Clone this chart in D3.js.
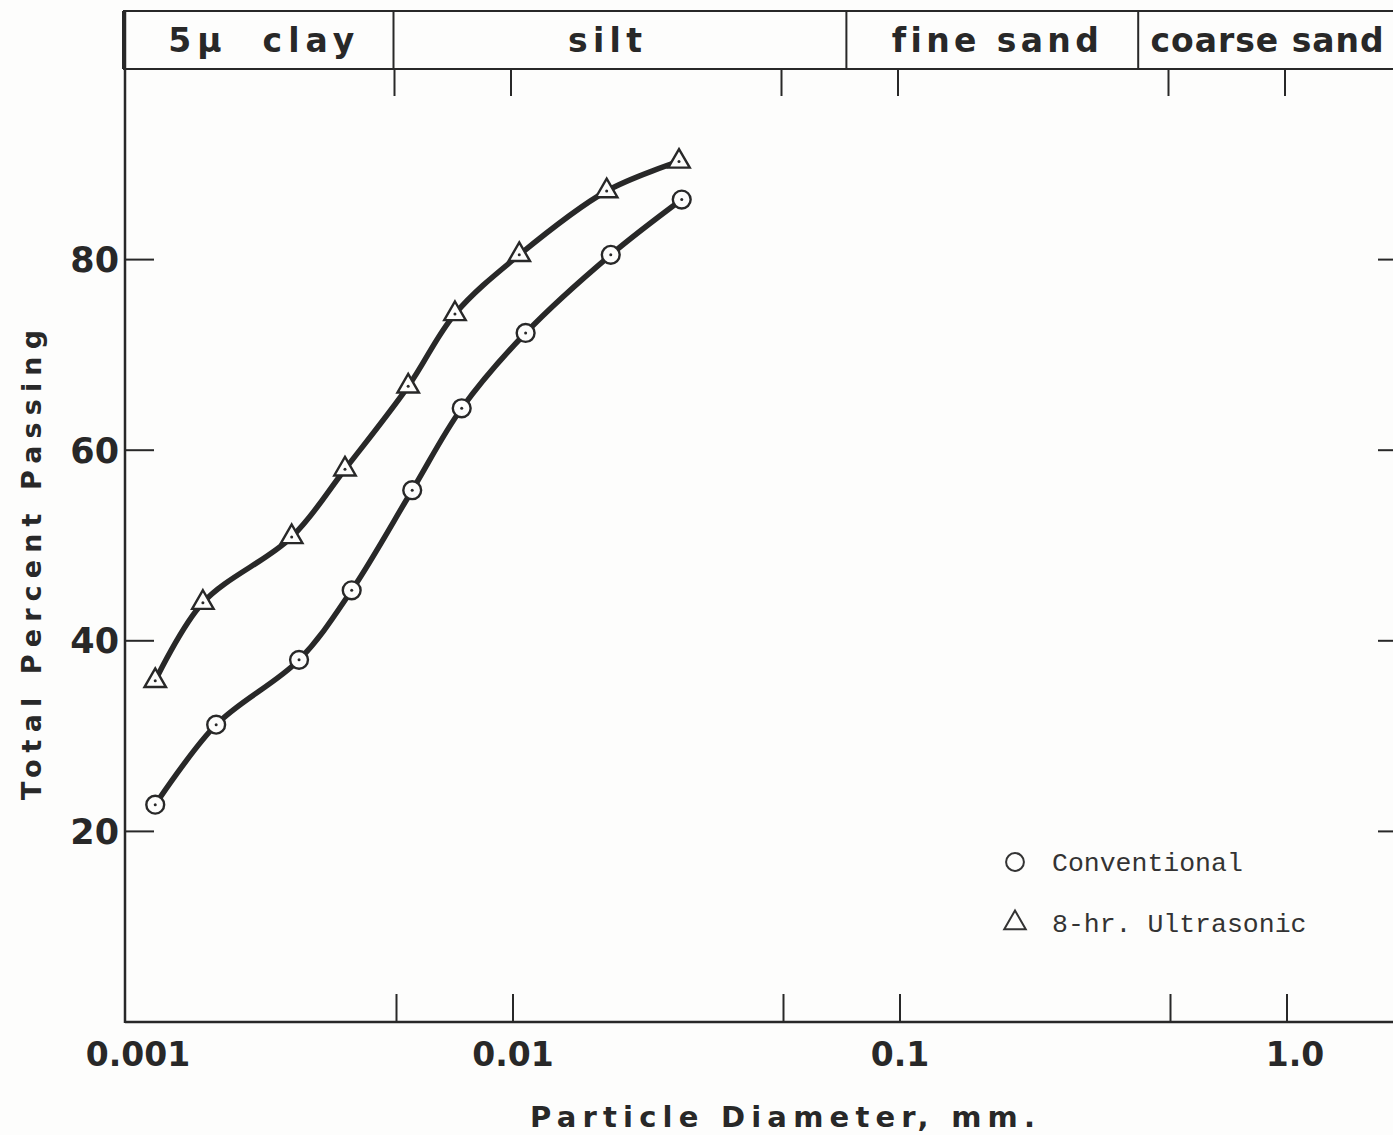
<!DOCTYPE html>
<html>
<head>
<meta charset="utf-8">
<script src="https://cdn.jsdelivr.net/npm/d3@7"></script>
<style>
  body { margin: 0; background: #fdfdfc; }
  svg { display: block; }
  text { font-variant-ligatures: none; }
</style>
</head>
<body>
<svg id="chart"></svg>
<script>
// particle diameter (mm) and total percent passing
var conventionalSize = [0.00119, 0.00171, 0.00280, 0.00383, 0.00549, 0.00737, 0.01078, 0.01789, 0.02729];
var conventionalPct  = [22.8, 31.2, 38.0, 45.3, 55.8, 64.4, 72.3, 80.5, 86.3];
var ultrasonicSize = [0.00119, 0.00158, 0.00268, 0.00368, 0.00536, 0.00708, 0.01038, 0.01746, 0.02685];
var ultrasonicPct  = [35.8, 44.0, 50.9, 58.0, 66.7, 74.3, 80.5, 87.2, 90.3];

var xTicks = [0.005, 0.01, 0.05, 0.1, 0.5, 1];
var xLabelValues = [0.001, 0.01, 0.1, 1];
var xLabelText = ["0.001", "0.01", "0.1", "1.0"];
var yTicks = [20, 40, 60, 80];

// soil classes along the top (mm)
var bandNames = ["5\u00b5  clay", "silt", "fine sand", "coarse sand"];
var bandEdges = [0.001, 0.005, 0.074, 0.42, 2.0];

var legendNames = ["Conventional", "8-hr. Ultrasonic"];

var width = 1393, height = 1135;
var boldFont = "'DejaVu Sans', Lato, sans-serif";
var ink = "#282828";

var svg = d3.select("#chart")
    .attr("width", width)
    .attr("height", height);

var x = d3.scaleLog()
    .domain([0.001, 1])
    .range([126, 1287]);

var y = d3.scaleLinear()
    .domain([0, 100])
    .range([1022, 69]);

var headerTop = 11;

// header band
var bands = bandNames.map((name, i) => ({name: name, lo: bandEdges[i], hi: bandEdges[i + 1]}));
// printed width of each class name, px
var bandTextLen = [186, 74, 207, 233];

svg.append("g")
    .attr("stroke", ink)
    .attr("stroke-width", 2)
    .attr("fill", "none")
    .call(g => g.append("line")
        .attr("x1", x(0.001) - 3).attr("x2", width)
        .attr("y1", headerTop).attr("y2", headerTop))
    .call(g => g.append("line")
        .attr("x1", x(0.001) - 3).attr("x2", width)
        .attr("y1", y(100)).attr("y2", y(100)))
    .call(g => g.selectAll(".div")
      .data(bandEdges.slice(0, -1))
      .enter().append("line")
        .attr("x1", d => x(d) - 3).attr("x2", d => x(d) - 3)
        .attr("y1", headerTop).attr("y2", y(100)));

svg.append("g")
    .attr("font-family", boldFont)
    .attr("font-weight", "bold")
    .attr("font-size", 33)
    .attr("fill", ink)
    .attr("text-anchor", "middle")
  .selectAll("text")
  .data(bands)
  .enter().append("text")
    .attr("x", d => (x(d.lo) + Math.min(x(d.hi), width)) / 2 + (d.name === "silt" ? -18 : 0))
    .attr("y", 52)
    .attr("textLength", (d, i) => bandTextLen[i])
    .attr("lengthAdjust", "spacing")
    .style("white-space", "pre")
    .text(d => d.name);

// axes
svg.append("g")
    .attr("stroke", ink)
    .attr("stroke-width", 2.5)
    .call(g => g.append("line")
        .attr("x1", x(0.001) - 1).attr("x2", x(0.001) - 1)
        .attr("y1", headerTop).attr("y2", y(0) + 1))
    .call(g => g.append("line")
        .attr("x1", x(0.001) - 1).attr("x2", width)
        .attr("y1", y(0)).attr("y2", y(0)));

// x ticks, bottom and top
svg.append("g")
    .attr("stroke", ink)
    .attr("stroke-width", 2)
    .call(g => g.selectAll(".b")
      .data(xTicks)
      .enter().append("line")
        .attr("x1", d => x(d)).attr("x2", d => x(d))
        .attr("y1", y(0)).attr("y2", y(0) - 28))
    .call(g => g.selectAll(".t")
      .data(xTicks)
      .enter().append("line")
        .attr("x1", d => x(d) - 2).attr("x2", d => x(d) - 2)
        .attr("y1", y(100)).attr("y2", y(100) + 27));

svg.append("g")
    .attr("font-family", boldFont)
    .attr("font-weight", "bold")
    .attr("font-size", 33)
    .attr("fill", ink)
    .attr("text-anchor", "middle")
  .selectAll("text")
  .data(xLabelValues)
  .enter().append("text")
    .attr("x", d => x(d))
    .attr("dx", (d, i) => i === 0 ? 12 : (i === 3 ? 8 : 0))
    .attr("y", 1066)
    .text((d, i) => xLabelText[i]);

// y ticks, left and right
svg.append("g")
    .attr("stroke", ink)
    .attr("stroke-width", 2)
    .call(g => g.selectAll(".l")
      .data(yTicks)
      .enter().append("line")
        .attr("x1", x(0.001)).attr("x2", x(0.001) + 28)
        .attr("y1", d => y(d)).attr("y2", d => y(d)))
    .call(g => g.selectAll(".r")
      .data(yTicks)
      .enter().append("line")
        .attr("x1", width - 15).attr("x2", width)
        .attr("y1", d => y(d)).attr("y2", d => y(d)));

svg.append("g")
    .attr("font-family", boldFont)
    .attr("font-weight", "bold")
    .attr("font-size", 35)
    .attr("fill", ink)
    .attr("text-anchor", "end")
  .selectAll("text")
  .data(yTicks)
  .enter().append("text")
    .attr("x", x(0.001) - 7)
    .attr("y", d => y(d))
    .attr("dy", "0.36em")
    .text(d => d);

// axis titles
svg.append("text")
    .attr("x", 530)
    .attr("y", 1127)
    .attr("font-family", boldFont)
    .attr("font-weight", "bold")
    .attr("font-size", 29)
    .attr("fill", ink)
    .attr("textLength", 505)
    .attr("lengthAdjust", "spacing")
    .text("Particle Diameter, mm.");

svg.append("text")
    .attr("transform", "translate(41,800) rotate(-90)")
    .attr("font-family", boldFont)
    .attr("font-weight", "bold")
    .attr("font-size", 27)
    .attr("fill", ink)
    .attr("textLength", 470)
    .attr("lengthAdjust", "spacing")
    .text("Total Percent Passing");

// curves
var line = d3.line()
    .x(d => x(d[0]))
    .y(d => y(d[1]))
    .curve(d3.curveCatmullRom.alpha(0.5));

var series = [
  {name: legendNames[0], size: conventionalSize, pct: conventionalPct, symbol: d3.symbolCircle, sz: 250},
  {name: legendNames[1], size: ultrasonicSize, pct: ultrasonicPct, symbol: d3.symbolTriangle, sz: 200}
];

series.forEach(s => {
  var pts = s.size.map((v, i) => [v, s.pct[i]]);

  svg.append("path")
      .datum(pts)
      .attr("fill", "none")
      .attr("stroke", ink)
      .attr("stroke-width", 5.5)
      .attr("stroke-linecap", "round")
      .attr("d", line);

  var m = svg.append("g")
    .selectAll("g")
    .data(pts)
    .enter().append("g")
      .attr("transform", d => `translate(${x(d[0])},${y(d[1])})`);

  m.append("path")
      .attr("d", d3.symbol().type(s.symbol).size(s.sz))
      .attr("fill", "#fdfdfc")
      .attr("stroke", ink)
      .attr("stroke-width", 2.4);

  m.append("circle")
      .attr("r", 1.5)
      .attr("fill", ink);
});

// legend
var legend = svg.append("g")
  .selectAll("g")
  .data(series)
  .enter().append("g")
    .attr("transform", (d, i) => `translate(1015,${862 + i * 61})`);

legend.append("path")
    .attr("d", d => d3.symbol().type(d.symbol).size(d.sz)())
    .attr("fill", "none")
    .attr("stroke", "#333")
    .attr("stroke-width", 2);

legend.append("text")
    .attr("x", 37)
    .attr("dy", "0.33em")
    .attr("font-family", "'Liberation Mono', 'DejaVu Sans Mono', monospace")
    .attr("font-size", 26.5)
    .attr("fill", "#333")
    .text(d => d.name);
</script>
</body>
</html>
